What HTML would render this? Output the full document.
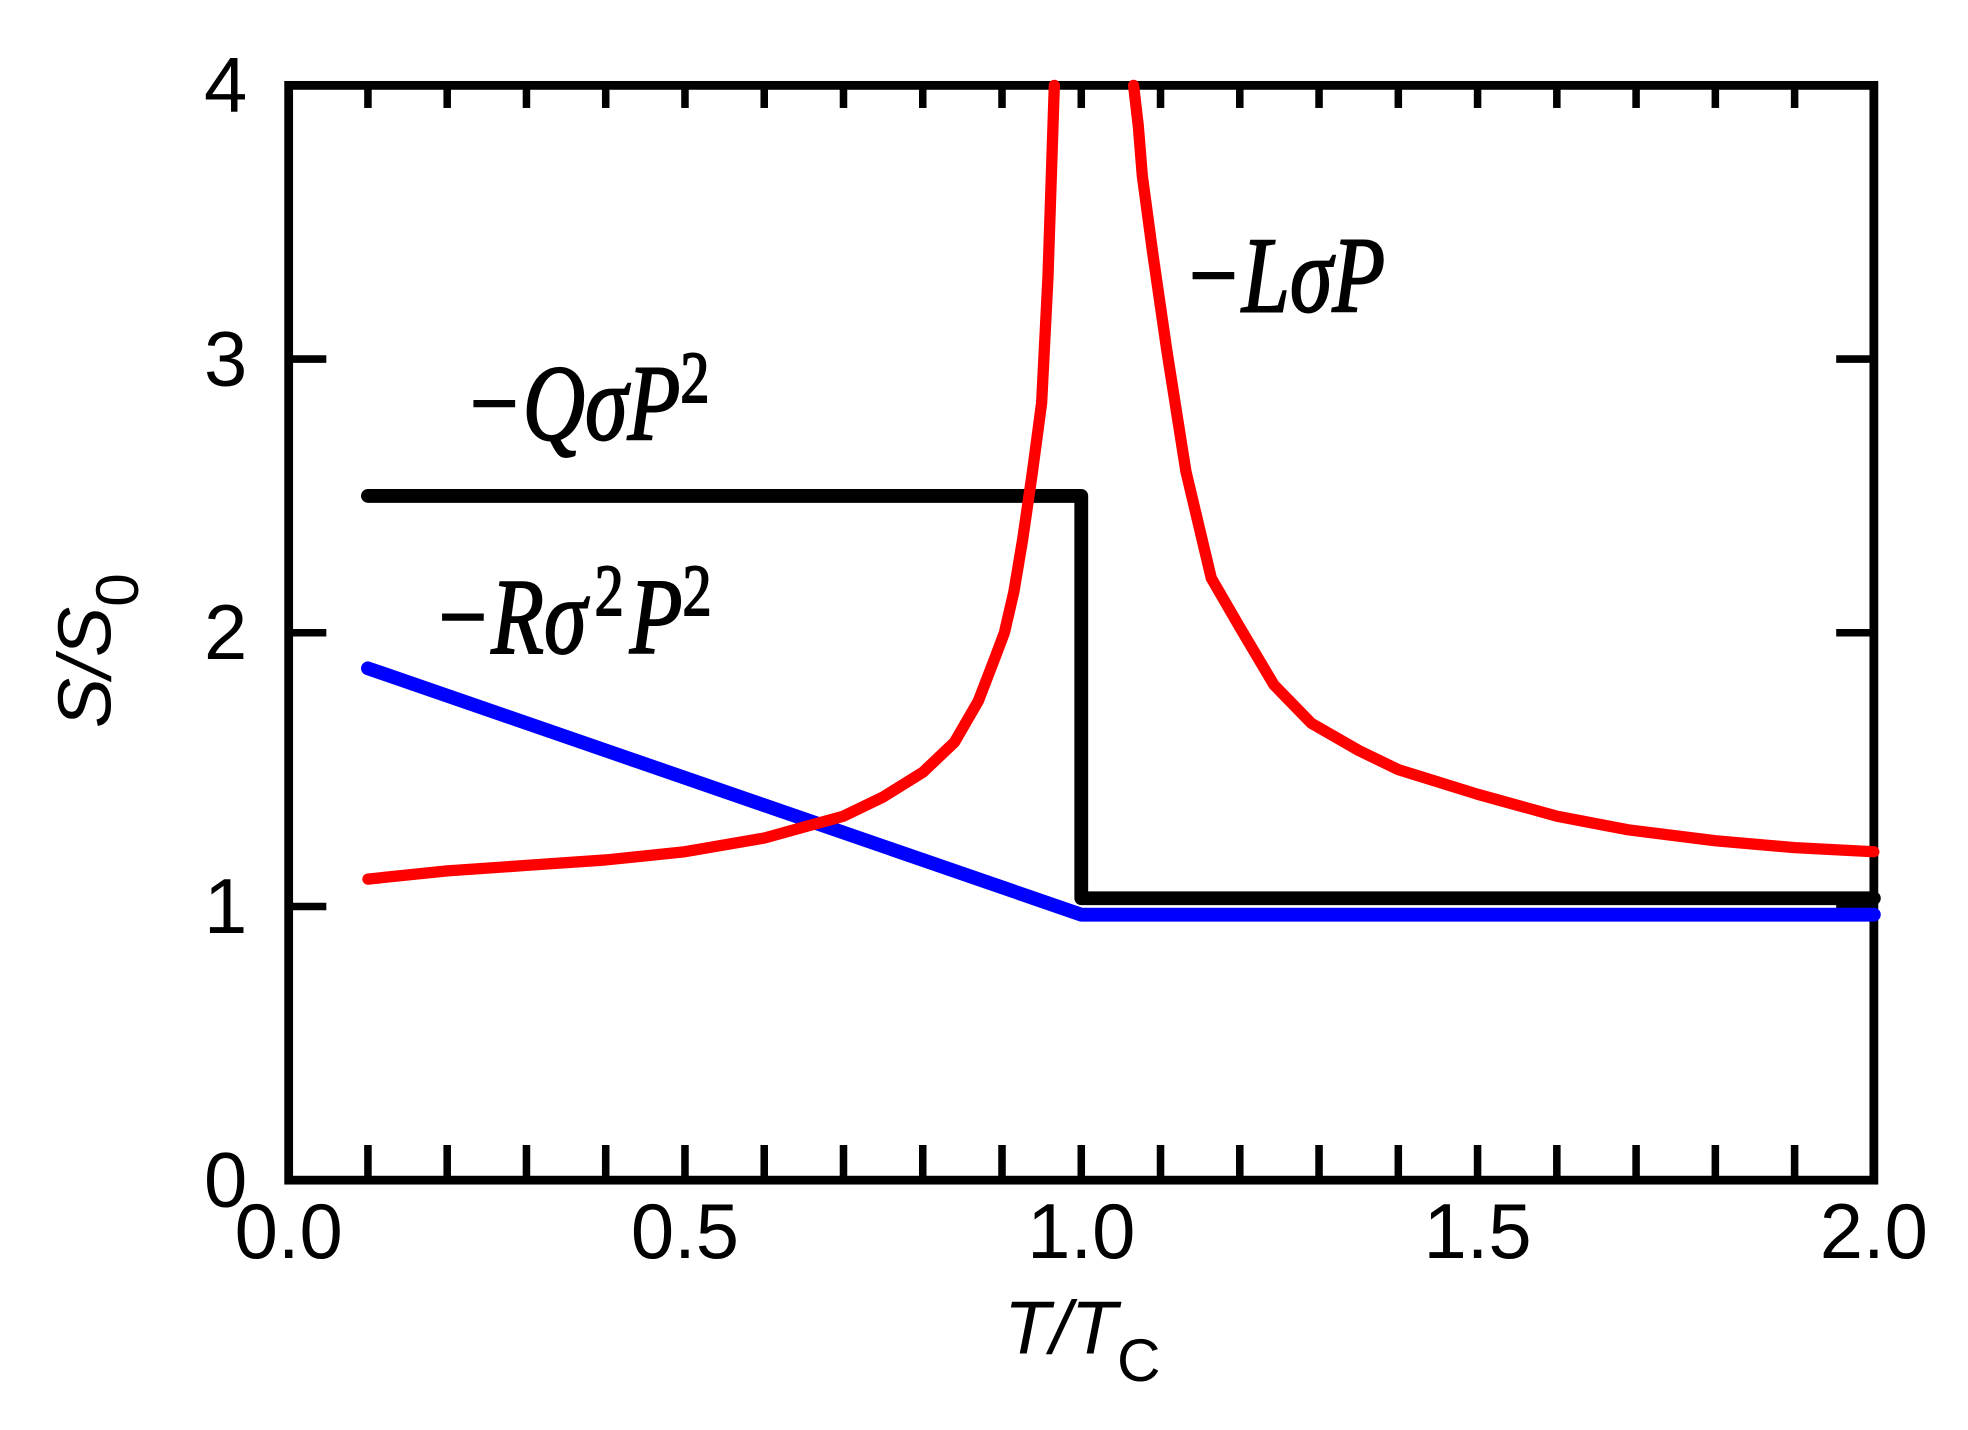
<!DOCTYPE html>
<html><head><meta charset="utf-8"><style>
html,body{margin:0;padding:0;background:#fff;}
svg{display:block;}
</style></head><body>
<svg id="chart" width="1968" height="1430" viewBox="0 0 1568 1139" preserveAspectRatio="none" xmlns="http://www.w3.org/2000/svg">
<g id="axes"></g>
<g id="series"></g>
<g font-family="'Liberation Serif', serif" font-style="italic" font-size="86" fill="#000" stroke="#000" stroke-width="1.5">
<text transform="translate(943,248) scale(0.8,1)">−LσP</text>
<text transform="translate(370,350) scale(0.8,1)">−QσP<tspan font-size="58" font-style="normal" dy="-30">2</tspan></text>
<text transform="translate(345,520) scale(0.8,1)">−Rσ<tspan font-size="58" font-style="normal" dy="-30" dx="8">2</tspan><tspan dy="30" dx="6">P</tspan><tspan font-size="58" font-style="normal" dy="-30">2</tspan></text>
</g>
<g font-family="'Liberation Sans', sans-serif" font-size="60" fill="#000">
<text x="800" y="1078" font-style="italic">T/T<tspan font-style="normal" font-size="48" dy="22">C</tspan></text>
<text transform="translate(88,580) rotate(-90)" font-style="italic">S/S<tspan font-style="normal" font-size="48" dy="22">0</tspan></text>
</g>
</svg>
<script>
const redX=[0.1,0.2,0.3,0.4,0.5,0.6,0.65,0.7,0.75,0.8,0.84,0.87,0.89,0.903,0.915,0.926,0.938,0.95,0.958,0.966];
const redY=[1.1,1.13,1.15,1.17,1.2,1.25,1.29,1.33,1.40,1.49,1.6,1.75,1.9,2.0,2.15,2.34,2.58,2.84,3.3,4.0];
const red2X=[1.066,1.072,1.077,1.09,1.108,1.132,1.164,1.2,1.243,1.29,1.35,1.4,1.5,1.6,1.69,1.8,1.9,2.0];
const red2Y=[4.0,3.85,3.67,3.39,3.03,2.59,2.2,2.02,1.81,1.67,1.57,1.5,1.41,1.33,1.28,1.24,1.215,1.2];
const blackX=[0.1,1.0,1.0,2.0];
const blackY=[2.5,2.5,1.03,1.03];
const blueX=[0.1,1.0,2.0];
const blueY=[1.87,0.97,0.97];
const xTicks=["0.0","0.5","1.0","1.5","2.0"];
const yTicks=["0","1","2","3","4"];
const NS="http://www.w3.org/2000/svg";
const L=230,R=1493,T=68,B=940;
const sx=v=>L+(v/2)*(R-L), sy=v=>B-(v/4)*(B-T);
function mk(tag,attrs,parent){const e=document.createElementNS(NS,tag);for(const k in attrs)e.setAttribute(k,attrs[k]);parent.appendChild(e);return e;}
const ax=document.getElementById('axes'), se=document.getElementById('series');
for(let i=1;i<20;i++){const x=sx(i*0.1);
 let t=mk('line',{x1:x,x2:x,y1:B,y2:B-28,stroke:'#000','stroke-width':6},ax);
 
 
 let t2=mk('line',{x1:x,x2:x,y1:T,y2:T+18,stroke:'#000','stroke-width':6},ax);
 
 }
for(let i=1;i<4;i++){const y=sy(i);
 let t=mk('line',{x1:L,x2:L+30,y1:y,y2:y,stroke:'#000','stroke-width':6},ax);
 
 
 let t2=mk('line',{x1:R-30,x2:R,y1:y,y2:y,stroke:'#000','stroke-width':6},ax);
 
 }
xTicks.forEach(s=>{let t=mk('text',{x:sx(parseFloat(s)),y:1002,'text-anchor':'middle','font-family':"'Liberation Sans',sans-serif",'font-size':62},ax);t.textContent=s;
 
 });
yTicks.forEach(s=>{let t=mk('text',{x:197,y:sy(parseFloat(s))+21,'text-anchor':'end','font-family':"'Liberation Sans',sans-serif",'font-size':62},ax);t.textContent=s;
 
 });
let fr=mk('rect',{x:L,y:T,width:R-L,height:B-T,fill:'none',stroke:'#000','stroke-width':7},ax);


function line(xs,ys,col,w,name){const d=xs.map((x,i)=>(i?'L':'M')+sx(x)+','+sy(ys[i])).join('');
 const p=mk('path',{d:d,fill:'none',stroke:col,'stroke-width':w,'stroke-linecap':'round','stroke-linejoin':'round'},se);
 
 }
line(blueX,blueY,'#0000ff',11,'line-r-sigma2-p2');
line(blackX,blackY,'#000',11,'line-q-sigma-p2');
line(redX,redY,'#ff0000',9,'line-l-sigma-p-left');
line(red2X,red2Y,'#ff0000',9,'line-l-sigma-p-right');
</script>
</body></html>
